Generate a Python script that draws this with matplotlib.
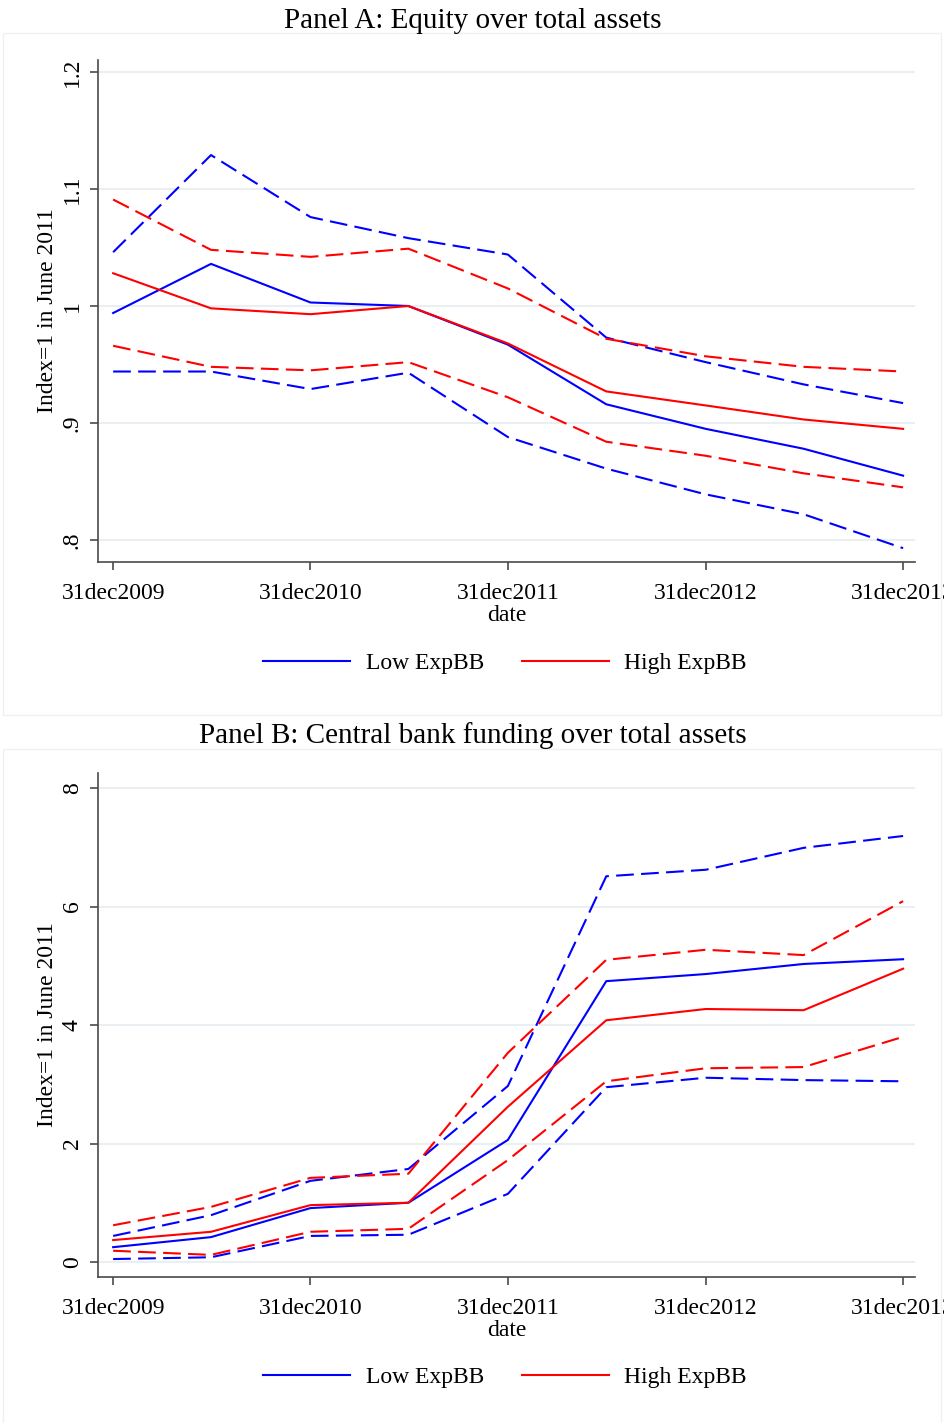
import matplotlib
matplotlib.use("Agg")
import matplotlib.pyplot as plt
from matplotlib.lines import Line2D
from matplotlib.patches import Rectangle
import pandas as pd

plt.rcParams['font.family'] = ['Liberation Serif', 'DejaVu Serif']

# Semiannual observation dates
dates = pd.to_datetime(["2009-12-31", "2010-06-30", "2010-12-31", "2011-06-30",
                        "2011-12-31", "2012-06-30", "2012-12-31", "2013-06-30",
                        "2013-12-31"])
tick_dates = pd.to_datetime(["2009-12-31", "2010-12-31", "2011-12-31",
                             "2012-12-31", "2013-12-31"])
tick_labels = ["31dec2009", "31dec2010", "31dec2011", "31dec2012", "31dec2013"]

# Panel A: equity over total assets (index = 1 in June 2011)
eq_low = [0.994, 1.036, 1.003, 1.000, 0.967, 0.916, 0.895, 0.878, 0.855]
eq_low_hi = [1.046, 1.129, 1.076, 1.058, 1.044, 0.973, 0.952, 0.933, 0.917]
eq_low_lo = [0.944, 0.944, 0.929, 0.943, 0.888, 0.861, 0.839, 0.822, 0.793]
eq_high = [1.028, 0.998, 0.993, 1.000, 0.968, 0.927, 0.915, 0.903, 0.895]
eq_high_hi = [1.091, 1.048, 1.042, 1.049, 1.015, 0.972, 0.957, 0.948, 0.944]
eq_high_lo = [0.966, 0.948, 0.945, 0.952, 0.922, 0.884, 0.872, 0.857, 0.845]
eq_yticks = [0.8, 0.9, 1.0, 1.1, 1.2]
eq_ylabels = [".8", ".9", "1", "1.1", "1.2"]

# Panel B: central bank funding over total assets (index = 1 in June 2011)
cb_low = [0.25, 0.42, 0.91, 1.00, 2.06, 4.74, 4.86, 5.03, 5.11]
cb_low_hi = [0.44, 0.79, 1.37, 1.57, 2.97, 6.51, 6.62, 6.99, 7.19]
cb_low_lo = [0.05, 0.08, 0.44, 0.46, 1.15, 2.95, 3.11, 3.07, 3.05]
cb_high = [0.37, 0.51, 0.96, 1.00, 2.62, 4.08, 4.27, 4.25, 4.95]
cb_high_hi = [0.62, 0.93, 1.42, 1.49, 3.53, 5.10, 5.27, 5.18, 6.09]
cb_high_lo = [0.19, 0.12, 0.51, 0.56, 1.72, 3.05, 3.27, 3.29, 3.80]
cb_yticks = [0, 2, 4, 6, 8]
cb_ylabels = ["0", "2", "4", "6", "8"]

BLUE = "#0000ff"
RED = "#ff0000"
GRID = "#e9eff2"
AXCOL = "#4a4a4a"
FS = 17

W, H = 944, 1423
fig = plt.figure(figsize=(W / 100, H / 100), dpi=100)


def fx(px):
    return px / W


def fy(py):
    return 1 - py / H


def panel(title, title_y, ax_top, ax_bot, ylim, yticks, ylabels,
          low, low_hi, low_lo, high, high_hi, high_lo, legend_y, box):
    # light outer frame of the graph region
    fig.patches.append(Rectangle((fx(box[0]), fy(box[3])), fx(box[2] - box[0]),
                                 (box[3] - box[1]) / H, transform=fig.transFigure,
                                 fill=False, edgecolor="#eef0f2", lw=1.0))
    fig.text(fx(473), fy(title_y), title, ha="center", va="center", fontsize=21)
    ax = fig.add_axes([fx(98), fy(ax_bot), fx(915 - 98), (ax_bot - ax_top) / H])
    dash = (0, (8.5, 3.5))
    lw = 1.5
    ax.plot(dates, low_hi, color=BLUE, lw=lw, linestyle=dash)
    ax.plot(dates, high_hi, color=RED, lw=lw, linestyle=dash)
    ax.plot(dates, low_lo, color=BLUE, lw=lw, linestyle=dash)
    ax.plot(dates, high_lo, color=RED, lw=lw, linestyle=dash)
    ax.plot(dates, low, color=BLUE, lw=lw)
    ax.plot(dates, high, color=RED, lw=lw)

    ax.set_xlim(pd.Timestamp("2009-12-31") - pd.Timedelta(days=28),
                pd.Timestamp("2013-12-31") + pd.Timedelta(days=22))
    ax.set_ylim(*ylim)
    ax.set_xticks(tick_dates)
    ax.set_xticklabels(tick_labels, fontsize=FS)
    ax.set_yticks(yticks)
    ax.set_yticklabels(ylabels, fontsize=FS, rotation=90, va="center")
    ax.grid(axis="y", color=GRID, lw=1.5)
    ax.set_axisbelow(True)
    for s in ("top", "right"):
        ax.spines[s].set_visible(False)
    for s in ("left", "bottom"):
        ax.spines[s].set_color(AXCOL)
        ax.spines[s].set_linewidth(1.2)
    ax.tick_params(axis="both", direction="out", length=6, width=1.2,
                   color=AXCOL)
    ax.tick_params(axis="x", pad=9)
    ax.tick_params(axis="y", pad=5)
    ax.set_xlabel("date", fontsize=FS, labelpad=0.5)
    ax.set_ylabel("Index=1 in June 2011", fontsize=FS, labelpad=3)

    handles = [Line2D([], [], color=BLUE, lw=1.5), Line2D([], [], color=RED, lw=1.5)]
    fig.legend(handles, ["Low ExpBB", "High ExpBB"], loc="center",
               bbox_to_anchor=(fx(505), fy(legend_y)), ncol=2, frameon=False,
               fontsize=FS, handlelength=3.7, handletextpad=0.65,
               columnspacing=1.6)
    return ax


panel("Panel A: Equity over total assets", 21, 60, 562,
      (0.8 - 22 / 1170, 1.2 + 12 / 1170), eq_yticks, eq_ylabels,
      eq_low, eq_low_hi, eq_low_lo, eq_high, eq_high_hi, eq_high_lo,
      663, (3, 33, 941, 715))

panel("Panel B: Central bank funding over total assets", 736, 773, 1277,
      (-15 / 59.25, 8 + 15 / 59.25), cb_yticks, cb_ylabels,
      cb_low, cb_low_hi, cb_low_lo, cb_high, cb_high_hi, cb_high_lo,
      1377, (3, 749, 941, 1430))

fig.savefig("out.png", dpi=100, facecolor="white")
